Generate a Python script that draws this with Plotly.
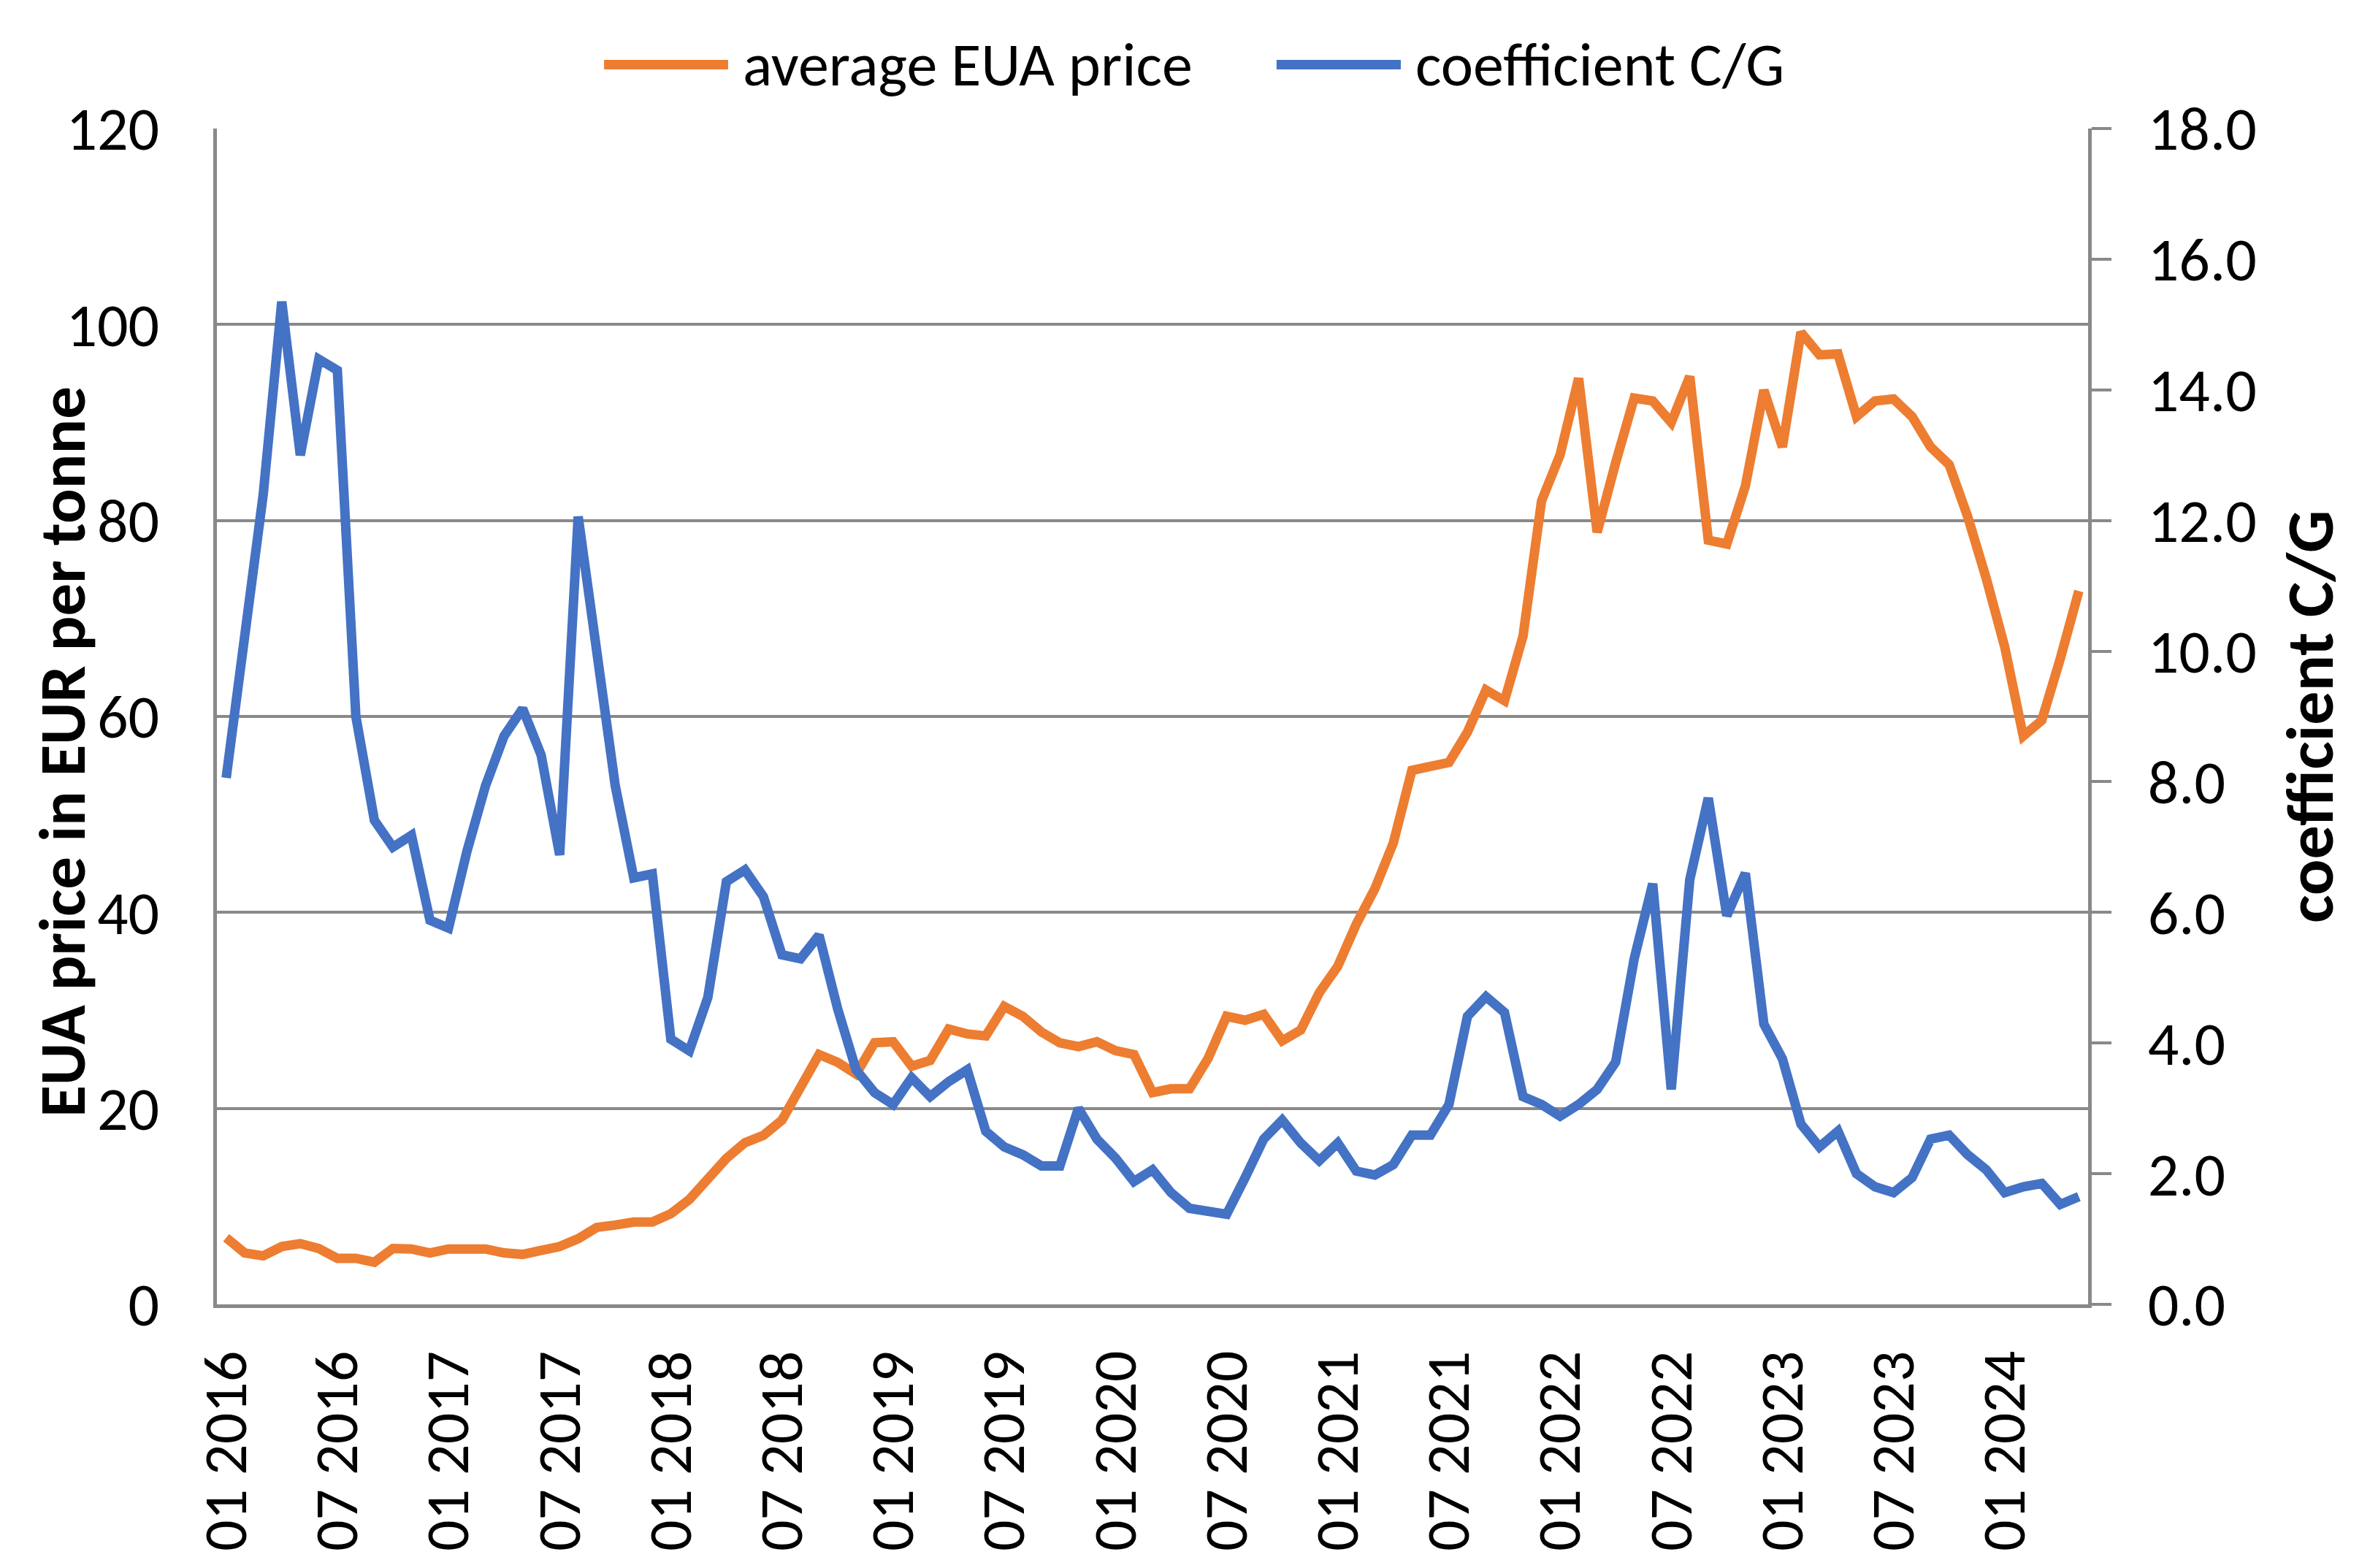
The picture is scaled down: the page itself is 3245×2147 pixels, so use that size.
import plotly.graph_objects as go

# ---- data ----
years = list(range(2016, 2025))
months = [f"{m:02d} {y}" for y in years for m in range(1, 13)][:101]  # 01 2016 .. 05 2024

eua_price = [
    6.8, 5.25, 4.95, 5.9, 6.2, 5.7, 4.7, 4.7, 4.3, 5.7, 5.65, 5.25,
    5.65, 5.65, 5.65, 5.25, 5.1, 5.5, 5.9, 6.7, 7.85, 8.1, 8.4, 8.4,
    9.25, 10.7, 12.9, 14.9, 16.5, 17.25, 18.8, 22.0, 25.5, 24.7, 23.5, 26.7,
    26.8, 24.3, 24.9, 28.1, 27.6, 27.4, 30.4, 29.4, 27.8, 26.7, 26.3, 26.8,
    25.9, 25.5, 21.6, 22.0, 22.0, 25.1, 29.4, 29.0, 29.6, 26.9, 28.0, 31.8,
    34.5, 38.8, 42.4, 47.1, 54.5, 54.9, 55.3, 58.4, 62.7, 61.6, 68.2, 82.0,
    86.7, 94.5, 78.8, 85.9, 92.5, 92.2, 90.0, 94.7, 78.0, 77.6, 83.5, 93.3,
    87.5, 99.2, 96.9, 97.0, 90.6, 92.2, 92.4, 90.6, 87.5, 85.7, 80.4, 74.1,
    67.1, 58.0, 59.6, 65.9, 72.8,
]

coef_cg = [
    8.06, 10.2, 12.4, 15.35, 13.0, 14.47, 14.3, 9.0, 7.41, 7.0, 7.18, 5.88,
    5.76, 6.94, 7.94, 8.7, 9.12, 8.41, 6.88, 12.06, 10.0, 7.94, 6.53, 6.59,
    4.06, 3.88, 4.7, 6.47, 6.65, 6.24, 5.35, 5.29, 5.65, 4.53, 3.59, 3.24,
    3.06, 3.47, 3.18, 3.41, 3.59, 2.65, 2.41, 2.29, 2.12, 2.12, 3.0, 2.53,
    2.24, 1.88, 2.06, 1.71, 1.47, 1.44, 1.38, 1.94, 2.53, 2.82, 2.47, 2.2,
    2.47, 2.04, 1.98, 2.14, 2.59, 2.59, 3.06, 4.41, 4.71, 4.47, 3.18, 3.06,
    2.88, 3.06, 3.29, 3.71, 5.29, 6.44, 3.29, 6.5, 7.75, 5.95, 6.6, 4.29,
    3.76, 2.76, 2.41, 2.65, 2.0, 1.8, 1.71, 1.94, 2.53, 2.59, 2.29, 2.06,
    1.71, 1.8, 1.85, 1.53, 1.65,
]

tick_labels = [f"{m} {y}" for y in range(2016, 2025) for m in ("01", "07")][:17]

left_ticks = [0, 20, 40, 60, 80, 100, 120]
right_ticks = [0, 2, 4, 6, 8, 10, 12, 14, 16, 18]

series_names = ["average EUA price", "coefficient C/G"]
left_title = "EUA price in EUR per tonne"
right_title = "coefficient C/G"

# ---- style ----
ORANGE = "#ED7D31"
BLUE = "#4472C4"
GRID = "#898989"
FONT = "Carlito, Calibri, Lato, sans-serif"
FS = 84
LW = 13

fig = go.Figure()
fig.add_trace(go.Scatter(x=months, y=eua_price, mode="lines", name=series_names[0],
                         line=dict(color=ORANGE, width=LW), yaxis="y", showlegend=False))
fig.add_trace(go.Scatter(x=months, y=coef_cg, mode="lines", name=series_names[1],
                         line=dict(color=BLUE, width=LW), yaxis="y2", showlegend=False))

# the page body adds an 8px offset, so the figure is 8px smaller than the window
fig.update_layout(
    width=3237, height=2139, autosize=False,
    margin=dict(l=289, r=386, t=168, b=361),
    paper_bgcolor="white", plot_bgcolor="white",
    font=dict(family=FONT, size=FS, color="black"),
    xaxis=dict(
        type="category", categoryorder="array", categoryarray=months,
        range=[-0.5, len(months) - 0.5],
        tickmode="array", tickvals=tick_labels, ticktext=tick_labels,
        tickangle=-90, showgrid=False, zeroline=False,
        showline=True, linecolor=GRID, linewidth=5,
        ticks="", ticklabelstandoff=25,
        tickfont=dict(family=FONT, size=FS),
    ),
    yaxis=dict(
        range=[0, 120], tickmode="array", tickvals=left_ticks,
        showgrid=True, gridcolor=GRID, gridwidth=4, zeroline=False,
        showline=True, linecolor=GRID, linewidth=5,
        ticks="", ticklabelstandoff=57,
        tickfont=dict(family=FONT, size=FS),
    ),
    yaxis2=dict(
        range=[0, 18], overlaying="y", side="right",
        tickmode="array", tickvals=right_ticks, tickformat=".1f",
        showgrid=False, zeroline=False,
        showline=True, linecolor=GRID, linewidth=5,
        ticks="outside", ticklen=27, tickwidth=4, tickcolor=GRID,
        ticklabelstandoff=33,
        tickfont=dict(family=FONT, size=FS),
    ),
)

# axis titles (placed as annotations to match the original layout)
fig.add_annotation(text=f"<b>{left_title}</b>", xref="paper", yref="paper",
                   x=-0.0827, y=0.470, xanchor="center", yanchor="middle",
                   textangle=-90, showarrow=False, font=dict(family=FONT, size=89))
fig.add_annotation(text=f"<b>{right_title}</b>", xref="paper", yref="paper",
                   x=1.1183, y=0.5, xanchor="center", yanchor="middle",
                   textangle=-90, showarrow=False, font=dict(family=FONT, size=92))

# legend drawn at the top centre
leg_y = 1.0543
for (x0, x1, xt), col, name in zip([(0.2069, 0.2732, 0.2803), (0.5663, 0.6327, 0.6397)],
                                   [ORANGE, BLUE], series_names):
    fig.add_shape(type="line", xref="paper", yref="paper", x0=x0, x1=x1, y0=leg_y, y1=leg_y,
                  line=dict(color=col, width=LW))
    fig.add_annotation(text=name, xref="paper", yref="paper", x=xt, y=leg_y,
                       xanchor="left", yanchor="middle", showarrow=False,
                       font=dict(family=FONT, size=FS))

fig.write_html("out.html")
